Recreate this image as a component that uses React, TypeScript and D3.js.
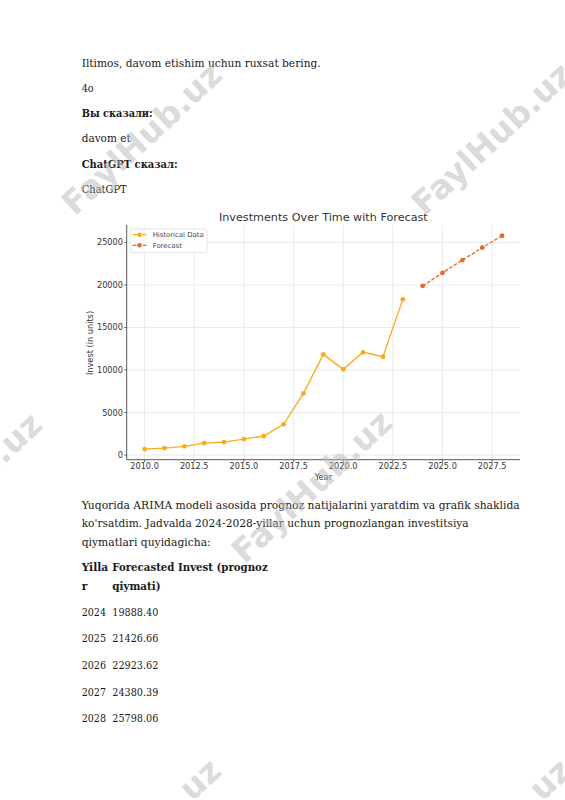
import React from "react";
import * as d3 from "d3";

const histYears = [2010, 2011, 2012, 2013, 2014, 2015, 2016, 2017, 2018, 2019, 2020, 2021, 2022, 2023];
const histValues = [706, 823, 1019, 1411, 1529, 1882, 2235, 3610, 7255, 11840, 10080, 12080, 11570, 18310];
const forecastYears = [2024, 2025, 2026, 2027, 2028];
const forecastValues = [19888.4, 21426.66, 22923.62, 24380.39, 25798.06];
const xTicks = [2010, 2012.5, 2015, 2017.5, 2020, 2022.5, 2025, 2027.5];
const yTicks = [0, 5000, 10000, 15000, 20000, 25000];

const chartTitle = "Investments Over Time with Forecast";
const xLabel = "Year";
const yLabel = "Invest (in units)";
const legendLabels = ["Historical Data", "Forecast"];

const topLines = [
  { t: "Iltimos, davom etishim uchun ruxsat bering.", bold: false, w: 239 },
  { t: "4o", bold: false, w: 12 },
  { t: "Вы сказали:", bold: true, w: 71 },
  { t: "davom et", bold: false, w: 49 },
  { t: "ChatGPT сказал:", bold: true, w: 96 },
  { t: "ChatGPT", bold: false, w: 45 },
];
const paraLines = [
  { t: "Yuqorida ARIMA modeli asosida prognoz natijalarini yaratdim va grafik shaklida", w: 438 },
  { t: "ko'rsatdim. Jadvalda 2024-2028-yillar uchun prognozlangan investitsiya", w: 387 },
  { t: "qiymatlari quyidagicha:", w: 129 },
];
const tableHead1 = ["Yilla", "Forecasted Invest (prognoz"];
const tableHead2 = ["r", "qiymati)"];
const tableYears = ["2024", "2025", "2026", "2027", "2028"];
const tableValues = ["19888.40", "21426.66", "22923.62", "24380.39", "25798.06"];

const watermarks = [
  [143, 140], [493, 140], [-37, 490], [313, 488], [142, 836], [492, 836],
];

const HIST = "#FBA91A";
const FORE = "#E8682D";
const SERIF = "'DejaVu Serif', serif";
const SANS = "'DejaVu Sans', sans-serif";

export default function App() {
  const allX = [...histYears, ...forecastYears];
  const allY = [...histValues, ...forecastValues];
  const [x0, x1] = d3.extent(allX) as [number, number];
  const [y0, y1] = d3.extent(allY) as [number, number];
  const px = (x1 - x0) * 0.05;
  const py = (y1 - y0) * 0.05;
  const left = 126.7, right = 520, top = 225, bottom = 459.7;
  const x = d3.scaleLinear().domain([x0 - px, x1 + px]).range([left, right]);
  const y = d3.scaleLinear().domain([y0 - py, y1 + py]).range([bottom, top]);
  const line = d3.line<[number, number]>().x((d) => x(d[0])).y((d) => y(d[1]));
  const hist = histYears.map((yr, i) => [yr, histValues[i]] as [number, number]);
  const fore = forecastYears.map((yr, i) => [yr, forecastValues[i]] as [number, number]);
  const fmt = d3.format(".1f");

  const topBase = [66.5, 91.5, 116.5, 142, 168, 193];
  const paraBase = [509, 527.3, 545.7];
  const headBase = [571.3, 589.7];
  const rowBase = [615.7, 642.3, 669, 695.7, 722.3];

  return (
    <svg width={565} height={800} style={{ position: "absolute", left: 0, top: 0, background: "#fff" }}>
      <rect width={565} height={800} fill="#fff" />
      {topLines.map((l, i) => (
        <text key={"t" + i} x={81.7} y={topBase[i]} fontFamily={SERIF} fontSize={10.8}
          fontWeight={l.bold ? "bold" : "normal"} fill="#1a1a1a"
          textLength={l.w} lengthAdjust="spacingAndGlyphs">{l.t}</text>
      ))}
      {paraLines.map((l, i) => (
        <text key={"p" + i} x={81.7} y={paraBase[i]} fontFamily={SERIF} fontSize={10.8} fill="#1a1a1a"
          textLength={l.w} lengthAdjust="spacingAndGlyphs">{l.t}</text>
      ))}
      <text x={81.7} y={headBase[0]} fontFamily={SERIF} fontSize={10.8} fontWeight="bold" fill="#1a1a1a" textLength={26.5} lengthAdjust="spacingAndGlyphs">{tableHead1[0]}</text>
      <text x={112.3} y={headBase[0]} fontFamily={SERIF} fontSize={10.8} fontWeight="bold" fill="#1a1a1a" textLength={155.4} lengthAdjust="spacingAndGlyphs">{tableHead1[1]}</text>
      <text x={81.7} y={headBase[1]} fontFamily={SERIF} fontSize={10.8} fontWeight="bold" fill="#1a1a1a">{tableHead2[0]}</text>
      <text x={112.3} y={headBase[1]} fontFamily={SERIF} fontSize={10.8} fontWeight="bold" fill="#1a1a1a" textLength={48.3} lengthAdjust="spacingAndGlyphs">{tableHead2[1]}</text>
      {tableYears.map((yr, i) => (
        <g key={"r" + i}>
          <text x={81.7} y={rowBase[i]} fontFamily={SERIF} fontSize={10.8} fill="#1a1a1a" textLength={24.3} lengthAdjust="spacingAndGlyphs">{yr}</text>
          <text x={112.3} y={rowBase[i]} fontFamily={SERIF} fontSize={10.8} fill="#1a1a1a" textLength={46} lengthAdjust="spacingAndGlyphs">{tableValues[i]}</text>
        </g>
      ))}

      {/* chart */}
      <g>
        {xTicks.map((t) => (
          <line key={"gx" + t} x1={x(t)} x2={x(t)} y1={top} y2={bottom} stroke="#e6e6e6" strokeWidth={0.8} />
        ))}
        {yTicks.map((t) => (
          <line key={"gy" + t} x1={left} x2={right} y1={y(t)} y2={y(t)} stroke="#e6e6e6" strokeWidth={0.8} />
        ))}
        <line x1={left} x2={left} y1={top} y2={bottom} stroke="#444" strokeWidth={0.9} />
        <line x1={left} x2={right} y1={bottom} y2={bottom} stroke="#444" strokeWidth={0.9} />
        {xTicks.map((t) => (
          <g key={"tx" + t}>
            <line x1={x(t)} x2={x(t)} y1={bottom} y2={bottom + 2.5} stroke="#444" strokeWidth={0.8} />
            <text x={x(t)} y={469} textAnchor="middle" fontFamily={SANS} fontSize={8.2} fill="#333">{fmt(t)}</text>
          </g>
        ))}
        {yTicks.map((t) => (
          <g key={"ty" + t}>
            <line x1={left - 2.5} x2={left} y1={y(t)} y2={y(t)} stroke="#444" strokeWidth={0.8} />
            <text x={123} y={y(t) + 3} textAnchor="end" fontFamily={SANS} fontSize={8.2} fill="#333">{t}</text>
          </g>
        ))}
        <text x={(left + right) / 2} y={220.5} textAnchor="middle" fontFamily={SANS} fontSize={11.2} fill="#333">{chartTitle}</text>
        <text x={(left + right) / 2} y={480} textAnchor="middle" fontFamily={SANS} fontSize={8.2} fill="#333">{xLabel}</text>
        <text transform={`translate(93,343) rotate(-90)`} textAnchor="middle" fontFamily={SANS} fontSize={8.2} fill="#333">{yLabel}</text>

        <path d={line(hist) || ""} fill="none" stroke={HIST} strokeWidth={1.3} />
        {hist.map((d, i) => (
          <circle key={"h" + i} cx={x(d[0])} cy={y(d[1])} r={2.4} fill={HIST} />
        ))}
        <path d={line(fore) || ""} fill="none" stroke={FORE} strokeWidth={1.3} strokeDasharray="3.7,1.6" />
        {fore.map((d, i) => (
          <circle key={"f" + i} cx={x(d[0])} cy={y(d[1])} r={2.4} fill={FORE} />
        ))}

        <rect x={130} y={229} width={77} height={23.5} rx={2} fill="#fff" fillOpacity={0.85} stroke="#d9d9d9" strokeWidth={0.7} />
        <line x1={132.5} x2={146.5} y1={234.7} y2={234.7} stroke={HIST} strokeWidth={1.3} />
        <circle cx={139.5} cy={234.7} r={2.2} fill={HIST} />
        <text x={152.7} y={237.2} fontFamily={SANS} fontSize={6.9} fill="#444">{legendLabels[0]}</text>
        <line x1={132.5} x2={146.5} y1={245.3} y2={245.3} stroke={FORE} strokeWidth={1.3} strokeDasharray="3.7,1.6" />
        <circle cx={139.5} cy={245.3} r={2.2} fill={FORE} />
        <text x={152.7} y={247.8} fontFamily={SANS} fontSize={6.9} fill="#444">{legendLabels[1]}</text>
      </g>

      {watermarks.map(([cx, cy], i) => (
        <text key={"w" + i} transform={`translate(${cx},${cy}) rotate(-43)`} textAnchor="middle" dominantBaseline="middle"
          fontFamily={SANS} fontWeight="bold" fontSize={33} fill="#bdbdbd" fillOpacity={0.55}>FaylHub.uz</text>
      ))}
    </svg>
  );
}
